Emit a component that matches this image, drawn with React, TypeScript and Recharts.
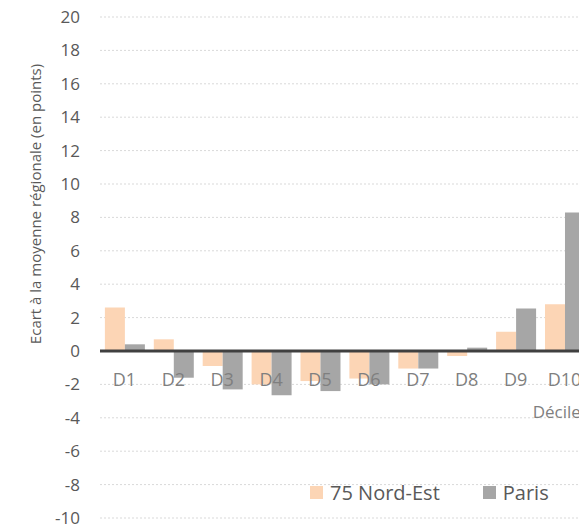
import React from 'react';
import { BarChart, Bar, XAxis, YAxis, CartesianGrid, ReferenceLine, Legend, Label } from 'recharts';

const categories = ['D1', 'D2', 'D3', 'D4', 'D5', 'D6', 'D7', 'D8', 'D9', 'D10'];
const nordEst = [2.6, 0.7, -0.9, -2.0, -1.8, -1.65, -1.05, -0.3, 1.15, 2.8];
const paris = [0.4, -1.6, -2.3, -2.65, -2.4, -2.0, -1.05, 0.2, 2.55, 8.3];
const yTicks = [-10, -8, -6, -4, -2, 0, 2, 4, 6, 8, 10, 12, 14, 16, 18, 20];
const Y_MIN = -10;
const Y_MAX = 20;

const data = categories.map((c, i) => ({ name: c, nordEst: nordEst[i], paris: paris[i] }));

const FONT = "'Open Sans', sans-serif";
const W = 600;
const H = 529;
const MARGIN = { top: 17, right: 11, bottom: 10, left: 0 };
const X_AXIS_H = 1;
const PLOT_H = H - MARGIN.top - MARGIN.bottom - X_AXIS_H;

const XTick = (props: any) => {
  const { x, y, payload } = props;
  const offset = (PLOT_H * (0 - Y_MIN)) / (Y_MAX - Y_MIN);
  return (
    <text
      x={x}
      y={y - offset + 28}
      textAnchor="middle"
      dominantBaseline="central"
      fill="#7f7f7f"
      fontSize={18}
      fontFamily={FONT}
    >
      {payload.value}
    </text>
  );
};

const LegendContent = (props: any) => {
  const { payload } = props;
  return (
    <div style={{ display: 'flex', alignItems: 'center', fontFamily: FONT, fontSize: 20, color: '#595959' }}>
      {payload.map((p: any, i: number) => (
        <div key={i} style={{ display: 'flex', alignItems: 'center', marginRight: i === 0 ? 43 : 0 }}>
          <span style={{ display: 'inline-block', width: 13, height: 13, background: p.color, marginRight: 7 }} />
          <span>{p.value}</span>
        </div>
      ))}
    </div>
  );
};

export default function App() {
  return (
    <div style={{ position: 'fixed', left: 0, top: 0, width: 579, height: 529, overflow: 'hidden', background: '#fff' }}>
      <BarChart width={W} height={H} data={data} margin={MARGIN} barCategoryGap="10%" barGap={0}>
        <CartesianGrid vertical={false} stroke="#d9d9d9" strokeDasharray="2 2" />
        <XAxis
          dataKey="name"
          height={X_AXIS_H}
          axisLine={false}
          tickLine={false}
          tickSize={0}
          tickMargin={0}
          tick={<XTick />}
          interval={0}
          label={
            <Label
              content={(p: any) => {
                const vb = p.viewBox || {};
                return (
                  <text
                    x={(vb.x || 0) + (vb.width || 0)}
                    y={411}
                    textAnchor="end"
                    dominantBaseline="central"
                    fill="#7f7f7f"
                    fontSize={17}
                    fontFamily={FONT}
                  >
                    Déciles
                  </text>
                );
              }}
            />
          }
        />
        <YAxis
          width={100}
          domain={[Y_MIN, Y_MAX]}
          ticks={yTicks}
          interval={0}
          axisLine={false}
          tickLine={false}
          tickSize={0}
          tickMargin={20}
          tick={{ fill: '#595959', fontSize: 17, fontFamily: FONT }}
          label={
            <Label
              content={() => (
                <text
                  x={35}
                  y={204}
                  transform="rotate(-90 35 204)"
                  textAnchor="middle"
                  dominantBaseline="central"
                  fill="#595959"
                  fontSize={15}
                  fontFamily={FONT}
                >
                  Ecart à la moyenne régionale (en points)
                </text>
              )}
            />
          }
        />
        <Bar dataKey="nordEst" name="75 Nord-Est" fill="#fcd5b5" isAnimationActive={false} />
        <Bar dataKey="paris" name="Paris" fill="#a6a6a6" isAnimationActive={false} />
        <ReferenceLine y={0} stroke="#404040" strokeWidth={3} />
        <Legend
          layout="horizontal"
          verticalAlign="middle"
          align="center"
          content={<LegendContent />}
          wrapperStyle={{ left: 310, top: 479, width: 'auto' }}
        />
      </BarChart>
    </div>
  );
}
